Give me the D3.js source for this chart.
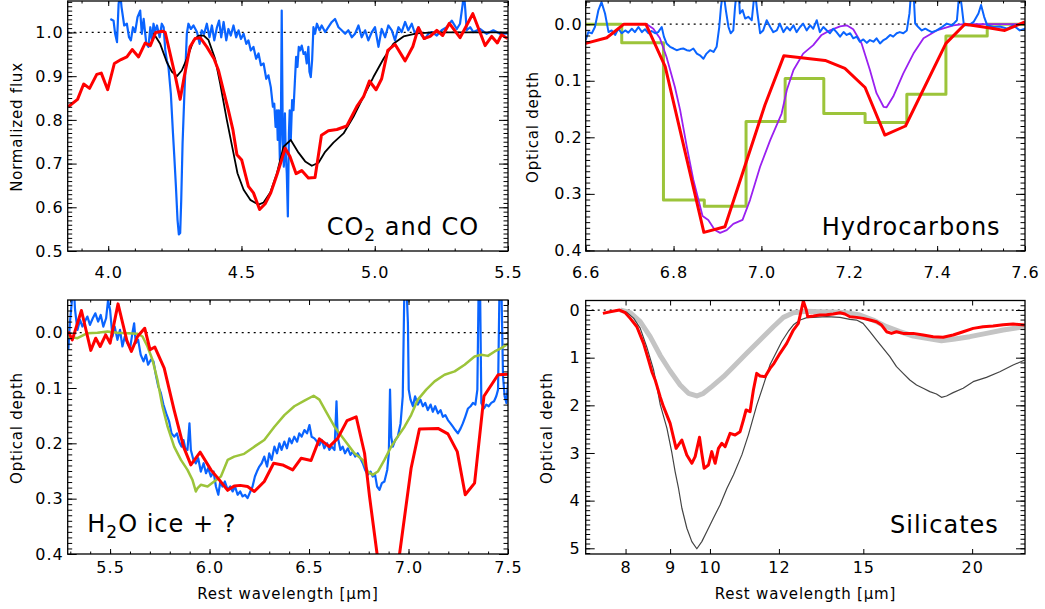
<!DOCTYPE html>
<html>
<head>
<meta charset="utf-8">
<script src="https://cdn.jsdelivr.net/npm/d3@7"></script>
<style>
  body { margin: 0; background: #fff; }
  text { font-family: "DejaVu Sans", sans-serif; fill: #000; }
</style>
</head>
<body>
<script>
// ---- data: [wavelength (um), value] ----
// panel 1: CO2 and CO (normalized flux)
const coBlue = [[4.008,1.031],[4.02,1.027],[4.026,0.997],[4.033,0.978],[4.039,1.065],[4.045,1.09],[4.05,1.058],[4.06,1.016],[4.07,1.02],[4.078,0.989],[4.085,0.982],[4.093,1.012],[4.101,1.001],[4.11,1.035],[4.12,1.05],[4.126,0.997],[4.133,1.031],[4.143,0.974],[4.151,0.967],[4.158,1.012],[4.164,0.982],[4.17,1.02],[4.176,1.001],[4.183,1.016],[4.193,0.989],[4.201,1.02],[4.208,1.012],[4.214,0.96],[4.22,0.936],[4.226,0.921],[4.235,0.86],[4.243,0.769],[4.248,0.716],[4.254,0.648],[4.26,0.572],[4.265,0.538],[4.27,0.541],[4.274,0.617],[4.279,0.746],[4.285,0.846],[4.29,0.921],[4.295,0.997],[4.301,1.02],[4.31,1.008],[4.32,1.016],[4.333,1.001],[4.343,0.974],[4.351,1.005],[4.36,0.997],[4.37,1.02],[4.38,0.989],[4.389,1.016],[4.398,0.982],[4.408,1.012],[4.416,1.027],[4.424,0.989],[4.433,1.024],[4.443,0.982],[4.451,1.008],[4.46,0.993],[4.47,1.016],[4.48,0.989],[4.489,1.005],[4.498,0.985],[4.508,0.997],[4.518,0.974],[4.526,0.982],[4.535,0.959],[4.545,0.967],[4.555,0.94],[4.564,0.952],[4.573,0.925],[4.583,0.929],[4.593,0.894],[4.601,0.902],[4.61,0.875],[4.618,0.83],[4.623,0.837],[4.628,0.784],[4.633,0.822],[4.636,0.754],[4.64,0.822],[4.644,0.708],[4.648,0.799],[4.651,1.05],[4.655,0.754],[4.659,0.693],[4.663,0.815],[4.666,0.724],[4.67,0.678],[4.674,0.579],[4.678,0.769],[4.681,0.822],[4.685,0.754],[4.69,0.845],[4.695,0.822],[4.7,0.883],[4.705,0.944],[4.71,0.921],[4.715,0.967],[4.72,0.959],[4.726,0.97],[4.733,0.951],[4.739,0.955],[4.745,0.929],[4.751,0.967],[4.755,0.91],[4.76,0.898],[4.765,0.936],[4.77,1.012],[4.776,0.997],[4.783,1.02],[4.793,1.005],[4.801,1.016],[4.814,1.001],[4.826,1.012],[4.839,1.024],[4.851,1.031],[4.864,1.012],[4.876,1.005],[4.889,0.997],[4.901,1.005],[4.914,0.989],[4.926,0.997],[4.939,1.016],[4.951,0.989],[4.964,1.005],[4.976,0.982],[4.989,1.001],[5.001,1.012],[5.014,0.967],[5.026,1.008],[5.039,0.989],[5.051,1.016],[5.064,1.005],[5.076,0.982],[5.089,1.012],[5.101,1.001],[5.114,1.024],[5.126,1.005],[5.139,1.02],[5.151,0.997],[5.164,1.012],[5.176,0.993],[5.189,0.986],[5.201,0.997],[5.214,1.001],[5.233,0.993],[5.251,1.005],[5.27,1.012],[5.289,1.027],[5.308,1.008],[5.32,1.02],[5.33,1.065],[5.335,1.09],[5.34,1.05],[5.345,1.005],[5.358,1.012],[5.37,1.001],[5.395,1.008],[5.42,0.997],[5.445,1.005],[5.47,0.997],[5.5,0.998]];
const coModel = [[4.17,0.998],[4.195,0.974],[4.22,0.932],[4.239,0.91],[4.258,0.9],[4.276,0.913],[4.298,0.944],[4.32,0.982],[4.339,0.993],[4.358,0.993],[4.376,0.983],[4.401,0.94],[4.42,0.883],[4.445,0.8],[4.47,0.724],[4.485,0.678],[4.508,0.64],[4.533,0.617],[4.564,0.606],[4.583,0.611],[4.608,0.634],[4.633,0.678],[4.658,0.739],[4.685,0.754],[4.714,0.725],[4.739,0.705],[4.764,0.695],[4.789,0.702],[4.814,0.727],[4.845,0.748],[4.883,0.769],[4.92,0.807],[4.958,0.853],[4.995,0.898],[5.033,0.94],[5.07,0.974],[5.108,0.991],[5.158,0.998],[5.22,1.0],[5.5,1.0]];
const coRed = [[3.85,0.83],[3.885,0.847],[3.908,0.882],[3.93,0.872],[3.957,0.904],[3.974,0.907],[3.998,0.869],[4.023,0.929],[4.048,0.938],[4.07,0.944],[4.09,0.961],[4.114,0.944],[4.139,0.976],[4.158,0.97],[4.178,1.0],[4.204,1.003],[4.214,1.0],[4.251,0.902],[4.27,0.847],[4.285,0.898],[4.307,0.967],[4.326,0.986],[4.345,0.988],[4.37,0.967],[4.397,0.94],[4.414,0.913],[4.432,0.868],[4.451,0.822],[4.468,0.777],[4.483,0.72],[4.501,0.708],[4.526,0.648],[4.545,0.633],[4.568,0.595],[4.589,0.608],[4.61,0.633],[4.635,0.678],[4.664,0.735],[4.682,0.716],[4.705,0.677],[4.726,0.684],[4.751,0.667],[4.776,0.668],[4.8,0.765],[4.826,0.775],[4.858,0.778],[4.895,0.786],[4.933,0.831],[4.958,0.853],[4.98,0.889],[5.005,0.869],[5.026,0.894],[5.049,0.959],[5.076,0.973],[5.114,0.935],[5.143,0.968],[5.164,1.011],[5.185,0.986],[5.208,0.991],[5.233,1.005],[5.255,0.993],[5.28,1.021],[5.32,0.988],[5.368,1.043],[5.414,0.97],[5.439,0.991],[5.46,0.976],[5.476,0.995],[5.498,0.986]];

// panel 2: hydrocarbons (optical depth)
const hcBlue = [[6.6,0.028],[6.606,0.014],[6.614,0.016],[6.621,0.005],[6.629,-0.025],[6.636,-0.039],[6.644,-0.019],[6.652,0.014],[6.659,0.011],[6.667,0.019],[6.674,0.008],[6.682,0.016],[6.69,0.011],[6.697,0.015],[6.705,0.008],[6.712,0.014],[6.72,0.005],[6.728,0.014],[6.735,0.009],[6.743,0.016],[6.75,0.012],[6.758,0.016],[6.765,0.014],[6.773,0.005],[6.778,0.022],[6.784,0.034],[6.792,0.04],[6.8,0.043],[6.807,0.046],[6.815,0.044],[6.822,0.043],[6.83,0.046],[6.837,0.047],[6.845,0.043],[6.853,0.052],[6.86,0.055],[6.868,0.061],[6.875,0.052],[6.883,0.046],[6.891,0.049],[6.898,0.04],[6.904,0.005],[6.908,-0.031],[6.913,-0.06],[6.919,-0.025],[6.925,0.005],[6.93,0.016],[6.936,0.011],[6.94,-0.031],[6.944,-0.06],[6.948,-0.06],[6.951,-0.019],[6.957,-0.025],[6.963,-0.01],[6.97,-0.013],[6.978,-0.007],[6.985,-0.06],[6.991,-0.019],[6.997,0.016],[7.004,0.011],[7.012,-0.007],[7.02,0.005],[7.027,0.014],[7.035,0.011],[7.042,-0.001],[7.05,0.014],[7.058,0.005],[7.065,0.011],[7.073,0.002],[7.08,0.014],[7.088,0.005],[7.095,-0.001],[7.103,0.011],[7.111,0.002],[7.118,0.008],[7.126,-0.007],[7.133,0.014],[7.141,0.005],[7.149,0.011],[7.156,0.016],[7.164,0.008],[7.171,0.014],[7.179,0.022],[7.187,0.014],[7.194,0.019],[7.202,0.016],[7.209,0.025],[7.217,0.022],[7.224,0.031],[7.232,0.027],[7.24,0.033],[7.247,0.028],[7.255,0.031],[7.262,0.025],[7.27,0.034],[7.278,0.028],[7.285,0.025],[7.293,0.019],[7.3,0.022],[7.308,0.016],[7.315,0.014],[7.323,0.016],[7.331,0.011],[7.337,-0.019],[7.341,-0.06],[7.346,-0.06],[7.35,-0.001],[7.357,0.005],[7.365,0.011],[7.373,0.008],[7.38,0.011],[7.388,0.014],[7.399,0.011],[7.411,0.005],[7.422,-0.001],[7.434,0.002],[7.445,-0.007],[7.451,-0.06],[7.456,-0.031],[7.461,0.002],[7.472,0.002],[7.483,-0.004],[7.494,-0.019],[7.5,-0.034],[7.507,-0.013],[7.514,0.002],[7.529,0.005],[7.543,0.004],[7.56,0.008],[7.573,0.002],[7.588,0.011],[7.6,0.008]];
const hcBinEdges = [6.6, 6.682, 6.777, 6.870, 6.965, 7.054, 7.142, 7.236, 7.331, 7.420, 7.514, 7.6];
const hcBinDepth = [0.0, 0.033, 0.311, 0.322, 0.172, 0.096, 0.158, 0.174, 0.124, 0.021, 0.0];
const hcPurple = [[6.739,0.0],[6.754,0.008],[6.769,0.025],[6.784,0.058],[6.803,0.111],[6.815,0.152],[6.83,0.216],[6.845,0.275],[6.866,0.339],[6.879,0.346],[6.894,0.364],[6.906,0.369],[6.921,0.364],[6.936,0.353],[6.957,0.346],[6.974,0.311],[6.997,0.252],[7.02,0.205],[7.046,0.158],[7.058,0.116],[7.073,0.081],[7.095,0.052],[7.118,0.037],[7.137,0.019],[7.156,0.011],[7.179,0.004],[7.194,0.002],[7.209,0.009],[7.228,0.034],[7.247,0.081],[7.262,0.122],[7.278,0.146],[7.285,0.147],[7.3,0.128],[7.323,0.087],[7.346,0.052],[7.369,0.025],[7.399,0.011],[7.437,0.002],[7.46,0.0],[7.6,0.0]];
const hcRed = [[6.6,0.034],[6.648,0.024],[6.687,0.0],[6.737,0.0],[6.781,0.075],[6.869,0.368],[6.917,0.358],[7.008,0.143],[7.051,0.056],[7.145,0.064],[7.19,0.078],[7.236,0.112],[7.281,0.196],[7.328,0.18],[7.42,0.034],[7.463,0.0],[7.513,0.006],[7.554,0.011],[7.6,-0.004]];

// panel 3: H2O ice + ? (optical depth)
const h2oBlue = [[5.29,0.031],[5.298,-0.017],[5.307,-0.053],[5.315,-0.1],[5.324,-0.041],[5.336,-0.005],[5.349,-0.023],[5.361,-0.011],[5.373,-0.02],[5.386,-0.029],[5.399,-0.014],[5.413,-0.026],[5.426,-0.035],[5.44,-0.02],[5.453,-0.032],[5.466,-0.011],[5.48,-0.026],[5.49,-0.059],[5.5,-0.041],[5.512,0.007],[5.523,-0.011],[5.537,0.013],[5.55,-0.005],[5.562,0.025],[5.574,0.007],[5.587,0.019],[5.601,0.028],[5.612,0.001],[5.621,-0.017],[5.629,0.019],[5.641,0.013],[5.654,0.04],[5.668,0.052],[5.68,0.04],[5.691,0.058],[5.705,0.049],[5.718,0.052],[5.73,0.076],[5.742,0.097],[5.755,0.109],[5.768,0.13],[5.782,0.146],[5.797,0.161],[5.809,0.182],[5.822,0.188],[5.836,0.182],[5.847,0.197],[5.859,0.206],[5.869,0.194],[5.878,0.209],[5.889,0.212],[5.899,0.164],[5.906,0.212],[5.919,0.23],[5.931,0.236],[5.943,0.227],[5.956,0.251],[5.97,0.236],[5.982,0.254],[5.993,0.245],[6.007,0.26],[6.02,0.251],[6.032,0.278],[6.044,0.293],[6.054,0.269],[6.065,0.278],[6.077,0.269],[6.091,0.284],[6.104,0.278],[6.116,0.287],[6.128,0.278],[6.141,0.293],[6.154,0.287],[6.166,0.296],[6.178,0.293],[6.191,0.299],[6.205,0.287],[6.216,0.278],[6.228,0.26],[6.238,0.251],[6.25,0.242],[6.262,0.236],[6.275,0.224],[6.289,0.242],[6.3,0.218],[6.312,0.23],[6.326,0.206],[6.339,0.218],[6.351,0.2],[6.362,0.212],[6.376,0.197],[6.389,0.209],[6.401,0.191],[6.413,0.2],[6.426,0.188],[6.44,0.197],[6.451,0.182],[6.463,0.188],[6.477,0.176],[6.49,0.182],[6.502,0.167],[6.513,0.188],[6.527,0.191],[6.54,0.197],[6.552,0.203],[6.564,0.194],[6.577,0.209],[6.591,0.2],[6.602,0.212],[6.614,0.206],[6.628,0.212],[6.638,0.124],[6.644,0.188],[6.658,0.212],[6.669,0.206],[6.681,0.218],[6.695,0.209],[6.708,0.221],[6.72,0.215],[6.732,0.224],[6.745,0.218],[6.758,0.227],[6.77,0.236],[6.782,0.248],[6.795,0.257],[6.809,0.251],[6.82,0.26],[6.832,0.257],[6.842,0.278],[6.854,0.284],[6.866,0.272],[6.879,0.269],[6.893,0.248],[6.901,0.218],[6.907,0.103],[6.913,0.188],[6.921,0.206],[6.933,0.194],[6.946,0.188],[6.96,0.164],[6.971,0.115],[6.98,-0.1],[6.988,-0.1],[6.997,-0.017],[7.001,0.103],[7.01,0.121],[7.022,0.133],[7.033,0.115],[7.047,0.13],[7.06,0.121],[7.072,0.133],[7.084,0.127],[7.097,0.14],[7.111,0.13],[7.122,0.143],[7.134,0.133],[7.148,0.146],[7.161,0.14],[7.173,0.152],[7.185,0.149],[7.198,0.158],[7.211,0.164],[7.223,0.17],[7.235,0.176],[7.248,0.182],[7.262,0.173],[7.273,0.164],[7.285,0.152],[7.299,0.137],[7.312,0.133],[7.324,0.127],[7.336,0.13],[7.346,0.103],[7.353,-0.1],[7.359,-0.1],[7.366,0.127],[7.379,0.137],[7.391,0.13],[7.403,0.133],[7.416,0.127],[7.43,0.124],[7.441,0.115],[7.45,0.103],[7.458,-0.1],[7.466,-0.1],[7.475,0.079],[7.483,0.115],[7.492,0.127],[7.5,0.091],[7.508,0.061]];
const h2oGreen = [[5.29,0.007],[5.336,0.01],[5.386,0.001],[5.436,0.0],[5.487,-0.002],[5.537,0.0],[5.587,0.001],[5.638,0.002],[5.663,0.007],[5.688,0.025],[5.713,0.049],[5.738,0.085],[5.763,0.133],[5.789,0.17],[5.822,0.206],[5.856,0.23],[5.889,0.248],[5.914,0.266],[5.931,0.287],[5.94,0.281],[5.956,0.275],[5.99,0.278],[6.023,0.269],[6.057,0.26],[6.091,0.23],[6.124,0.224],[6.174,0.219],[6.225,0.206],[6.275,0.194],[6.326,0.17],[6.376,0.149],[6.426,0.133],[6.477,0.123],[6.523,0.114],[6.552,0.121],[6.586,0.143],[6.628,0.17],[6.678,0.194],[6.728,0.218],[6.77,0.23],[6.795,0.251],[6.82,0.257],[6.846,0.251],[6.879,0.23],[6.913,0.206],[6.946,0.188],[6.98,0.17],[7.013,0.149],[7.047,0.121],[7.089,0.103],[7.131,0.088],[7.181,0.076],[7.232,0.07],[7.282,0.058],[7.332,0.043],[7.366,0.04],[7.399,0.042],[7.433,0.034],[7.466,0.028],[7.508,0.018]];
const h2oRed = [[5.29,-0.002],[5.31,0.013],[5.356,-0.04],[5.403,0.032],[5.428,0.01],[5.45,0.025],[5.478,0.004],[5.5,0.019],[5.54,-0.052],[5.584,0.014],[5.607,0.034],[5.638,0.007],[5.674,-0.008],[5.701,0.031],[5.725,0.026],[5.772,0.064],[5.822,0.14],[5.869,0.206],[5.906,0.239],[5.953,0.216],[6.007,0.248],[6.049,0.266],[6.091,0.285],[6.124,0.277],[6.154,0.276],[6.191,0.278],[6.225,0.287],[6.275,0.269],[6.322,0.236],[6.367,0.239],[6.418,0.248],[6.46,0.227],[6.51,0.231],[6.552,0.192],[6.602,0.206],[6.644,0.191],[6.691,0.159],[6.737,0.152],[6.779,0.218],[6.804,0.296],[6.842,0.4],[6.898,0.548],[6.955,0.4],[7.013,0.245],[7.055,0.174],[7.148,0.173],[7.198,0.183],[7.245,0.215],[7.285,0.293],[7.332,0.272],[7.379,0.115],[7.45,0.076],[7.508,0.075]];

// panel 4: silicates (optical depth, log wavelength)
const silGray = [[7.888,0],[8.099,0.056],[8.316,0.245],[8.538,0.559],[8.766,0.95],[9.001,1.28],[9.242,1.573],[9.448,1.748],[9.658,1.804],[9.829,1.748],[10.048,1.608],[10.363,1.399],[10.64,1.189],[11.02,0.909],[11.416,0.629],[11.825,0.35],[12.142,0.154],[12.467,0.056],[12.913,0.028],[13.376,0.035],[13.855,0.042],[14.351,0.056],[14.865,0.105],[15.397,0.21],[15.949,0.35],[16.52,0.455],[17.114,0.545],[17.727,0.594],[18.443,0.643],[19.021,0.615],[19.877,0.559],[20.771,0.49],[21.707,0.42],[22.984,0.35]];
const silBlack = [[7.888,0.01],[8.028,0.05],[8.171,0.17],[8.316,0.38],[8.463,0.78],[8.614,1.25],[8.69,1.6],[8.77,1.99],[8.924,2.48],[9.043,3.0],[9.12,3.39],[9.202,3.74],[9.285,4.16],[9.408,4.58],[9.532,4.86],[9.659,5.01],[9.787,4.86],[9.918,4.65],[10.09,4.37],[10.27,4.09],[10.46,3.74],[10.64,3.46],[10.88,3.04],[11.07,2.62],[11.32,1.99],[11.52,1.57],[11.72,1.15],[11.93,0.87],[12.09,0.66],[12.3,0.45],[12.47,0.31],[12.69,0.21],[12.92,0.16],[13.143,0.154],[13.614,0.14],[14.102,0.154],[14.478,0.196],[14.734,0.21],[14.99,0.28],[15.263,0.455],[15.534,0.629],[15.81,0.804],[16.09,0.979],[16.375,1.189],[16.666,1.329],[16.963,1.469],[17.265,1.573],[17.572,1.643],[17.883,1.713],[18.201,1.762],[18.443,1.832],[18.689,1.804],[19.021,1.734],[19.531,1.643],[20.054,1.503],[20.771,1.413],[21.517,1.294],[22.289,1.154],[22.984,1.049]];
const silRed = [[7.535,0.07],[7.682,0.035],[7.874,0.0],[7.993,0.056],[8.099,0.175],[8.243,0.35],[8.39,0.699],[8.501,1.049],[8.576,1.294],[8.652,1.469],[8.766,1.818],[8.844,2.028],[9.001,2.378],[9.144,2.902],[9.283,2.727],[9.406,3.042],[9.532,3.217],[9.616,3.077],[9.727,2.671],[9.786,3.007],[9.847,3.322],[9.96,3.252],[10.048,2.972],[10.138,3.217],[10.227,2.902],[10.317,2.797],[10.409,2.867],[10.547,2.587],[10.687,2.622],[10.829,2.552],[10.925,2.308],[11.002,2.098],[11.118,2.133],[11.217,1.678],[11.316,1.329],[11.416,1.385],[11.568,1.399],[11.722,1.224],[11.846,1.119],[12.035,0.909],[12.249,0.699],[12.467,0.42],[12.632,0.28],[12.8,-0.19],[12.9,0.0],[12.95,0.14],[13.143,0.126],[13.376,0.105],[13.614,0.098],[13.855,0.084],[14.102,0.056],[14.288,0.084],[14.478,0.14],[14.734,0.154],[14.99,0.175],[15.263,0.21],[15.534,0.245],[15.741,0.315],[15.949,0.455],[16.161,0.49],[16.375,0.455],[16.666,0.49],[17.114,0.49],[17.572,0.524],[18.042,0.559],[18.525,0.573],[19.021,0.524],[19.531,0.455],[20.054,0.385],[20.59,0.35],[21.14,0.336],[21.707,0.308],[22.289,0.294],[22.984,0.315]];

// tick labels
const coXTicks = [4.0, 4.5, 5.0, 5.5];
const coYTicks = [0.5, 0.6, 0.7, 0.8, 0.9, 1.0];
const hcXTicks = [6.6, 6.8, 7.0, 7.2, 7.4, 7.6];
const depthTicks = [0.0, 0.1, 0.2, 0.3, 0.4];
const h2oXTicks = [5.5, 6.0, 6.5, 7.0, 7.5];
const silXTicks = [8, 9, 10, 12, 15, 20];
const silYTicks = [0, 1, 2, 3, 4, 5];

const BLUE = "#0a64ff", RED = "#ff0000", GREEN = "#9cc43a", PURPLE = "#9a20f0", GRAY = "#c4c4c4";

const svg = d3.select("body").append("svg")
    .attr("width", 1045).attr("height", 609);

const hcSteps = hcBinEdges.map((e, i) => [e, i < hcBinDepth.length ? hcBinDepth[i] : hcBinDepth[hcBinDepth.length - 1]]);

function drawPanel(p) {
    const x = (p.log ? d3.scaleLog() : d3.scaleLinear()).domain(p.xDomain).range([p.left, p.right]);
    const y = d3.scaleLinear().domain(p.yDomain).range([p.top, p.bottom]);

    svg.append("clipPath").attr("id", "clip-" + p.name)
        .append("rect")
        .attr("x", p.left).attr("y", p.top)
        .attr("width", p.right - p.left).attr("height", p.bottom - p.top);

    const g = svg.append("g").attr("clip-path", "url(#clip-" + p.name + ")");

    // dotted reference line
    g.append("line")
        .attr("x1", p.left).attr("x2", p.right)
        .attr("y1", y(p.ref)).attr("y2", y(p.ref))
        .attr("stroke", "#000").attr("stroke-width", 1.2)
        .attr("stroke-dasharray", "2,4");

    p.series.forEach(s => {
        const line = d3.line().x(d => x(d[0])).y(d => y(d[1]))
            .curve(s.step ? d3.curveStepAfter : d3.curveLinear);
        g.append("path")
            .attr("d", line(s.data))
            .attr("fill", "none")
            .attr("stroke", s.color)
            .attr("stroke-width", s.width)
            .attr("stroke-linejoin", "round");
    });

    // ticks on all four sides, pointing inward
    const XT = 5, YT = 9;
    function ax(gen, vals, len, fmt, pad, tr, labeled) {
        const a = svg.append("g").attr("transform", tr)
            .call(gen.tickValues(vals).tickSizeInner(-len).tickSizeOuter(0)
                .tickPadding(pad).tickFormat(labeled ? fmt : () => ""));
        a.select(".domain").remove();
        a.selectAll("line").attr("stroke", "#000").attr("stroke-width", 1);
        a.selectAll("text").style("font-size", "16px").style("letter-spacing", "1px")
            .attr("fill", "#000");
        return a;
    }
    ax(d3.axisBottom(x), p.xMajor, XT, p.xFmt, p.xPad, `translate(0,${p.bottom})`, true);
    ax(d3.axisTop(x), p.xMajor, XT, null, 0, `translate(0,${p.top})`, false);
    if (p.xMinor) {
        ax(d3.axisBottom(x), p.xMinor, XT / 2, null, 0, `translate(0,${p.bottom})`, false);
        ax(d3.axisTop(x), p.xMinor, XT / 2, null, 0, `translate(0,${p.top})`, false);
    }
    ax(d3.axisLeft(y), p.yMajor, YT, p.yFmt, p.yPad, `translate(${p.left},0)`, true);
    ax(d3.axisRight(y), p.yMajor, YT, null, 0, `translate(${p.right},0)`, false);
    ax(d3.axisLeft(y), p.yMinor, YT / 2, null, 0, `translate(${p.left},0)`, false);
    ax(d3.axisRight(y), p.yMinor, YT / 2, null, 0, `translate(${p.right},0)`, false);

    // frame
    svg.append("rect")
        .attr("x", p.left).attr("y", p.top)
        .attr("width", p.right - p.left).attr("height", p.bottom - p.top)
        .attr("fill", "none").attr("stroke", "#000").attr("stroke-width", 1.3);
}

const f1 = d3.format(".1f");
const eps = 1e-9;

drawPanel({
    name: "co", left: 67.7, right: 508, top: 1, bottom: 251,
    xDomain: [3.848, 5.5], yDomain: [1.072, 0.5], ref: 1.0,
    xMajor: coXTicks, xMinor: d3.range(3.9, 5.5 + eps, 0.1), xFmt: f1, xPad: 15.5,
    yMajor: coYTicks, yMinor: d3.range(0.5, 1.07 + eps, 0.01), yFmt: f1, yPad: 4,
    series: [
        { data: coBlue, color: BLUE, width: 2.2 },
        { data: coModel, color: "#000", width: 1.8 },
        { data: coRed, color: RED, width: 3 }
    ]
});

drawPanel({
    name: "hc", left: 585.7, right: 1025, top: 1, bottom: 251,
    xDomain: [6.6, 7.6], yDomain: [-0.041, 0.401], ref: 0,
    xMajor: hcXTicks, xMinor: d3.range(6.6, 7.6 + eps, 0.05), xFmt: f1, xPad: 15.5,
    yMajor: depthTicks, yMinor: d3.range(-0.04, 0.4 + eps, 0.01), yFmt: f1, yPad: 3,
    series: [
        { data: hcSteps, color: GREEN, width: 3, step: true },
        { data: hcPurple, color: PURPLE, width: 1.8 },
        { data: hcBlue, color: BLUE, width: 2 },
        { data: hcRed, color: RED, width: 3 }
    ]
});

drawPanel({
    name: "h2o", left: 67.7, right: 508, top: 300, bottom: 554,
    xDomain: [5.287, 7.5], yDomain: [-0.059, 0.4], ref: 0,
    xMajor: h2oXTicks, xMinor: d3.range(5.3, 7.5 + eps, 0.1), xFmt: f1, xPad: 7.5,
    yMajor: depthTicks, yMinor: d3.range(-0.05, 0.4 + eps, 0.01), yFmt: f1, yPad: 4,
    series: [
        { data: h2oBlue, color: BLUE, width: 2.2 },
        { data: h2oGreen, color: GREEN, width: 2.5 },
        { data: h2oRed, color: RED, width: 3 }
    ]
});

drawPanel({
    name: "sil", left: 585.7, right: 1025, top: 300.5, bottom: 554, log: true,
    xDomain: [7.2, 23], yDomain: [-0.2, 5.12], ref: 0,
    xMajor: silXTicks, xMinor: null, xFmt: d3.format("d"), xPad: 7.5,
    yMajor: silYTicks, yMinor: d3.range(-0.1, 5.1 + eps, 0.1), yFmt: d3.format("d"), yPad: 5,
    series: [
        { data: silGray, color: GRAY, width: 5 },
        { data: silBlack, color: "#444", width: 1.2 },
        { data: silRed, color: RED, width: 3 }
    ]
});

// axis titles
function yTitle(txt, x, yc) {
    svg.append("text").text(txt)
        .attr("transform", `translate(${x},${yc}) rotate(-90)`)
        .attr("text-anchor", "middle")
        .style("font-size", "15px").style("letter-spacing", "0.8px");
}
yTitle("Normalized flux", 21.5, 127);
yTitle("Optical depth", 538, 127);
yTitle("Optical depth", 21.5, 428);
yTitle("Optical depth", 552, 428);

[287.9, 805.4].forEach(xc => {
    svg.append("text").text("Rest wavelength [μm]")
        .attr("x", xc).attr("y", 599).attr("text-anchor", "middle")
        .style("font-size", "15px").style("letter-spacing", "0.8px");
});

// panel annotations
function label(x, y, parts) {
    const t = svg.append("text").attr("x", x).attr("y", y)
        .style("font-size", "24px").style("letter-spacing", "1px")
        .attr("xml:space", "preserve");
    parts.forEach(pt => {
        const s = t.append("tspan").text(pt.t);
        if (pt.sub) s.attr("dy", 6).style("font-size", "17px");
        if (pt.up) s.attr("dy", -6);
    });
}
label(326.7, 235, [{ t: "CO" }, { t: "2", sub: true }, { t: " and CO", up: true }]);
label(821.7, 235, [{ t: "Hydrocarbons" }]);
label(87.3, 531.7, [{ t: "H" }, { t: "2", sub: true }, { t: "O ice + ?", up: true }]);
label(890, 532.7, [{ t: "Silicates" }]);
</script>
</body>
</html>
